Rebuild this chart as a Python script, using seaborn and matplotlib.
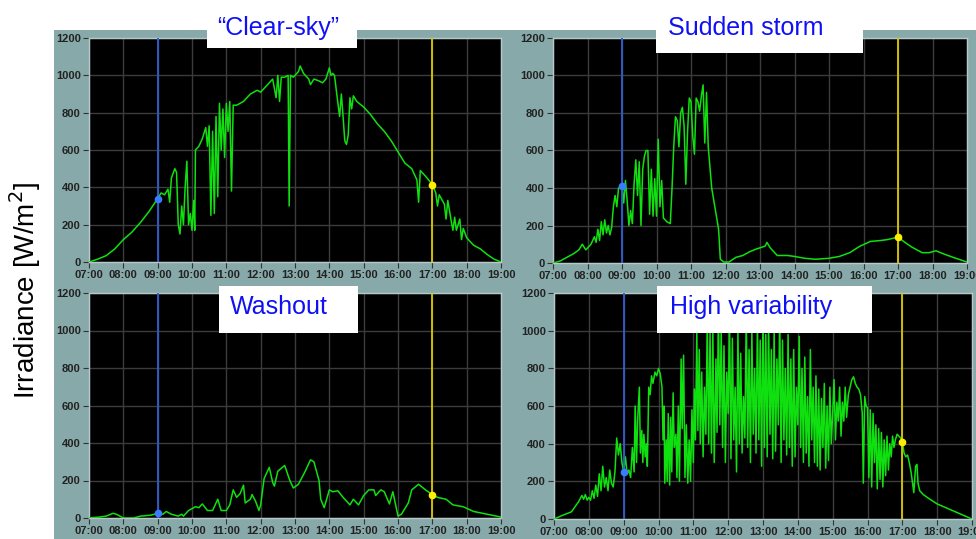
import numpy as np
import pandas as pd
import matplotlib
matplotlib.use("Agg")
import matplotlib.pyplot as plt
from matplotlib.patches import Rectangle
import seaborn as sns

# ---------------- data ----------------
panel_titles = ["\u201cClear-sky\u201d", "Sudden storm", "Washout", "High variability"]
x_tick_hours = list(range(7, 20))
x_tick_labels = [f"{h:02d}:00" for h in x_tick_hours]
y_ticks = [0, 200, 400, 600, 800, 1000, 1200]
y_label = "Irradiance [W/m$^2$]"
marker_start_hour = 9
marker_end_hour = 17

clear_t = [7.0, 7.25, 7.5, 7.75, 8.0, 8.25, 8.5, 8.75, 9.0, 9.1, 9.2, 9.3, 9.35, 9.4, 9.5, 9.55,
           9.6, 9.65, 9.7, 9.75, 9.8, 9.85, 9.9, 9.95, 10.0, 10.05, 10.08, 10.1, 10.2, 10.3, 10.4,
           10.45, 10.5, 10.55, 10.6, 10.65, 10.7, 10.75, 10.8, 10.85, 10.9, 10.95, 11.0, 11.05,
           11.1, 11.15, 11.2, 11.3, 11.5, 11.7, 11.9, 12.0, 12.2, 12.35, 12.45, 12.5, 12.55, 12.6,
           12.7, 12.8, 12.83, 12.87, 12.95, 13.1, 13.15, 13.25, 13.4, 13.45, 13.55, 13.7, 13.8,
           13.9, 14.0, 14.05, 14.1, 14.15, 14.25, 14.3, 14.35, 14.4, 14.45, 14.5, 14.55, 14.6,
           14.65, 14.7, 14.8, 15.0, 15.2, 15.4, 15.6, 15.8, 16.0, 16.2, 16.4, 16.55, 16.6, 16.65,
           16.8, 17.0, 17.1, 17.15, 17.2, 17.35, 17.4, 17.45, 17.55, 17.6, 17.65, 17.7, 17.8,
           17.85, 17.9, 18.0, 18.2, 18.4, 18.6, 18.8, 19.0]
clear_v = [0, 15, 34, 70, 120, 160, 212, 271, 340, 370, 360, 390, 320, 450, 500, 480,
           200, 150, 300, 200, 400, 540, 200, 260, 170, 330, 170, 600, 620, 660, 720,
           620, 730, 250, 700, 260, 780, 350, 850, 600, 820, 560, 850, 700,
           860, 380, 840, 840, 860, 900, 920, 910, 950, 980, 880, 1000, 860, 990,
           990, 1000, 300, 1000, 990, 1020, 1050, 1010, 980, 950, 980, 970, 960,
           980, 1040, 1000, 1010, 1000, 850, 780, 900, 780, 650, 630, 680, 880,
           820, 890, 860, 830, 790, 740, 700, 650, 590, 530, 500, 440, 320, 490,
           460, 415, 370, 300, 360, 310, 230, 330, 220, 170, 240, 170, 230,
           120, 180, 130, 90, 70, 40, 15, 0]

storm_t = [7.0, 7.2, 7.4, 7.6, 7.75, 7.85, 7.95, 8.1, 8.2, 8.25, 8.3, 8.35, 8.4, 8.45, 8.5,
           8.55, 8.6, 8.65, 8.7, 8.75, 8.8, 8.85, 8.9, 9.0, 9.05, 9.1, 9.15, 9.2, 9.25, 9.3,
           9.35, 9.4, 9.45, 9.5, 9.55, 9.6, 9.65, 9.7, 9.75, 9.8, 9.85, 9.9, 9.95, 10.0, 10.05,
           10.1, 10.15, 10.2, 10.3, 10.4, 10.45, 10.5, 10.55, 10.6, 10.65, 10.7, 10.75, 10.8,
           10.85, 10.9, 10.95, 11.0, 11.05, 11.1, 11.15, 11.2, 11.25, 11.3, 11.35, 11.4, 11.45,
           11.5, 11.6, 11.7, 11.8, 11.85, 11.95, 12.1, 12.3, 12.5, 12.7, 12.9, 13.15, 13.2,
           13.3, 13.5, 13.8, 14.0, 14.3, 14.6, 15.0, 15.3, 15.6, 15.9, 16.2, 16.5, 16.7, 17.0,
           17.2, 17.4, 17.7, 17.9, 18.1, 18.3, 18.6, 19.0]
storm_v = [0, 10, 30, 50, 70, 100, 70, 100, 140, 110, 180, 120, 220, 150, 230,
           160, 200, 150, 190, 300, 360, 300, 400, 410, 320, 440, 330, 200, 280, 210,
           420, 550, 360, 540, 200, 500, 570, 600, 600, 260, 500, 250, 450, 250, 660,
           300, 440, 240, 220, 210, 400, 620, 780, 760, 620, 800, 830, 730,
           420, 700, 880, 860, 680, 580, 880, 860, 810, 890, 950, 640, 910,
           620, 400, 290, 180, 20, 5, 5, 30, 40, 60, 75, 90, 110,
           80, 40, 40, 35, 25, 20, 25, 35, 55, 90, 115, 120, 125, 138,
           110, 85, 55, 55, 65, 50, 30, 5]

wash_t = [7.0, 7.3, 7.5, 7.7, 7.8, 8.0, 8.3, 8.5, 8.8, 9.0, 9.15, 9.25, 9.4, 9.6, 9.7, 9.75,
          9.9, 10.1, 10.2, 10.3, 10.45, 10.6, 10.75, 10.85, 11.0, 11.1, 11.2, 11.3, 11.4, 11.5,
          11.55, 11.7, 11.75, 11.85, 11.95, 12.0, 12.1, 12.25, 12.35, 12.4, 12.5, 12.7, 12.85,
          12.95, 13.1, 13.3, 13.45, 13.55, 13.7, 13.75, 13.85, 14.0, 14.1, 14.25, 14.4, 14.6,
          14.7, 14.85, 15.0, 15.15, 15.3, 15.35, 15.5, 15.6, 15.75, 15.85, 16.0, 16.1, 16.3,
          16.4, 16.6, 16.8, 17.0, 17.15, 17.4, 17.6, 17.9, 18.2, 18.6, 19.0]
wash_v = [0, 5, 10, 25, 20, 0, 0, 10, 15, 25, 20, 35, 20, 10, 20, 10,
          40, 60, 55, 75, 40, 40, 100, 40, 40, 70, 150, 110, 130, 175,
          80, 100, 125, 90, 40, 70, 210, 270, 190, 170, 250, 280, 200,
          160, 180, 250, 310, 300, 200, 100, 55, 150, 140, 145, 110, 70,
          100, 70, 120, 150, 150, 120, 150, 140, 75, 140, 10, 20, 80,
          150, 180, 150, 125, 110, 100, 70, 60, 35, 20, 5]

hv_t = [7.0, 7.25, 7.5, 7.7, 7.8, 7.85, 7.9, 7.95, 8.0, 8.05, 8.1, 8.15, 8.2, 8.25, 8.3, 8.35,
        8.4, 8.45, 8.5, 8.55, 8.6, 8.65, 8.7, 8.75, 8.8, 8.85, 8.9, 8.95, 9.0, 9.05, 9.1, 9.15,
        9.2, 9.25, 9.3, 9.33, 9.37, 9.4, 9.45, 9.48, 9.52, 9.55, 9.58, 9.62, 9.65, 9.68, 9.72,
        9.76, 9.8, 9.84, 9.9, 9.95, 10.0, 10.05, 10.1, 10.13, 10.16, 10.18, 10.22, 10.25, 10.28,
        10.32, 10.35, 10.38, 10.42, 10.45, 10.5, 10.53, 10.57, 10.6, 10.65, 10.68, 10.72, 10.76,
        10.8, 10.84, 10.88, 10.92, 10.96, 11.0, 11.03, 11.06, 11.1, 11.13, 11.17, 11.2, 11.24,
        11.28, 11.32, 11.36, 11.4, 11.44, 11.48, 11.52, 11.56, 11.6, 11.65, 11.68, 11.72, 11.76,
        11.8, 11.84, 11.88, 11.92, 11.96, 12.0, 12.04, 12.08, 12.12, 12.16, 12.2, 12.24, 12.28,
        12.32, 12.36, 12.4, 12.44, 12.48, 12.52, 12.56, 12.6, 12.64, 12.68, 12.72, 12.76, 12.8,
        12.84, 12.88, 12.92, 12.96, 13.0, 13.04, 13.08, 13.12, 13.16, 13.2, 13.24, 13.28, 13.32,
        13.36, 13.4, 13.44, 13.48, 13.52, 13.56, 13.6, 13.64, 13.68, 13.72, 13.76, 13.8, 13.84,
        13.88, 13.92, 13.96, 14.0, 14.04, 14.08, 14.12, 14.16, 14.2, 14.24, 14.28, 14.32, 14.36,
        14.4, 14.44, 14.48, 14.52, 14.56, 14.6, 14.64, 14.68, 14.72, 14.76, 14.8, 14.84, 14.88,
        14.92, 14.96, 15.0, 15.04, 15.08, 15.12, 15.16, 15.2, 15.24, 15.28, 15.32, 15.36, 15.4,
        15.45, 15.5, 15.55, 15.6, 15.65, 15.7, 15.75, 15.8, 15.85, 15.88, 15.92, 15.96, 16.0,
        16.04, 16.08, 16.12, 16.16, 16.2, 16.24, 16.28, 16.32, 16.36, 16.4, 16.44, 16.48, 16.52,
        16.56, 16.6, 16.64, 16.68, 16.72, 16.76, 16.8, 16.85, 16.9, 16.95, 17.0, 17.05, 17.1,
        17.15, 17.2, 17.25, 17.3, 17.33, 17.38, 17.42, 17.45, 17.5, 17.6, 17.75, 18.0, 18.25,
        18.5, 18.75, 19.0]
hv_v = [0, 20, 38, 90, 125, 105, 130, 100, 115, 100, 150, 110, 180, 120, 240, 150,
        280, 170, 220, 150, 260, 190, 170, 250, 430, 340, 400, 300, 250, 330, 240, 260,
        220, 380, 250, 600, 300, 520, 700, 350, 470, 300, 450, 330, 400, 280, 700,
        660, 760, 720, 780, 760, 800, 770, 700, 420, 600, 190, 420, 200, 560,
        180, 540, 250, 670, 380, 450, 220, 600, 200, 850, 480, 870, 220,
        500, 190, 420, 200, 580, 300, 690, 420, 990, 470, 900, 400, 780,
        330, 700, 450, 1050, 400, 990, 350, 1000, 300, 850, 460, 1100, 500,
        1000, 380, 920, 300, 780, 560, 1050, 320, 960, 420, 700, 250, 1000,
        400, 880, 350, 650, 430, 1100, 380, 900, 300, 1000, 450, 800, 350,
        1050, 420, 950, 280, 1100, 380, 980, 330, 1050, 450, 900, 320, 1000,
        360, 850, 500, 1100, 300, 950, 420, 800, 340, 980, 380, 850, 280,
        900, 330, 700, 500, 970, 380, 800, 300, 860, 350, 650, 280, 900,
        420, 700, 300, 760, 280, 690, 260, 640, 380, 720, 270, 600, 310,
        700, 400, 560, 740, 420, 620, 520, 700, 440, 620, 520, 700, 540,
        660, 700, 740, 755, 720, 700, 690, 660, 560, 190, 650, 600, 590,
        220, 580, 170, 560, 300, 500, 160, 480, 210, 460, 170, 420, 230,
        440, 260, 400, 330, 440, 380, 420, 450, 440, 430, 410, 350, 330,
        340, 300, 250, 180, 140, 280, 290, 190, 150, 130, 110, 80, 60,
        40, 20, 0]

series = [(clear_t, clear_v), (storm_t, storm_v), (wash_t, wash_v), (hv_t, hv_v)]

# ---------------- style / layout ----------------
W, H = 976, 539
BG_GRAY = "#87a9a9"
LINE_GREEN = "#10e010"

sns.set_theme(style="dark")
plt.rcParams["font.family"] = ["Liberation Sans", "DejaVu Sans"]

fig = plt.figure(figsize=(W / 100, H / 100), dpi=100)
fig.patch.set_facecolor("white")

def px_rect(x1, y1, x2, y2):
    return [x1 / W, 1 - y2 / H, (x2 - x1) / W, (y2 - y1) / H]

# gray panel background
fig.patches.append(Rectangle((54 / W, 0), (W - 54) / W, (H - 30) / H,
                             transform=fig.transFigure, facecolor=BG_GRAY,
                             edgecolor="none", zorder=-5))

axes_px = [(89, 38, 501, 262), (553, 38, 967, 263),
           (89, 293, 501, 518), (554, 293, 972, 519)]
title_boxes = [(207, 0, 357, 48), (656, 0, 863, 53),
               (219, 286, 358, 333), (657, 286, 872, 333)]
title_text_pos = [(217, 28), (668, 28), (230, 307), (670, 307)]

for i, ((t, v), apx) in enumerate(zip(series, axes_px)):
    ax = fig.add_axes(px_rect(*apx))
    ax.set_facecolor("black")
    df = pd.DataFrame({"time": t, "irr": v})
    sns.lineplot(data=df, x="time", y="irr", ax=ax, color=LINE_GREEN,
                 linewidth=1.1, estimator=None, sort=False, zorder=3)
    ax.axvline(marker_start_hour, color="#2d5fd8", linewidth=1.3, zorder=4)
    ax.axvline(marker_end_hour, color="#dcc800", linewidth=1.3, zorder=4)
    ys = np.interp(marker_start_hour, t, v)
    ye = np.interp(marker_end_hour, t, v)
    ax.plot([marker_start_hour], [ys], "o", color="#3a7cff", markersize=4.5, zorder=5)
    ax.plot([marker_end_hour], [ye], "o", color="#ffee00", markersize=4.5, zorder=5)

    ax.set_xlim(7, 19)
    ax.set_ylim(0, 1200)
    ax.set_xticks(x_tick_hours)
    ax.set_xticklabels(x_tick_labels)
    ax.set_yticks(y_ticks)
    ax.set_yticklabels([str(y) for y in y_ticks])
    ax.set_xlabel("")
    ax.set_ylabel("")
    ax.grid(True, color="#3c3c3c", linewidth=1.0)
    ax.set_axisbelow(True)
    ax.tick_params(axis="both", which="major", length=4, width=0.8, color="#333333",
                   labelsize=8, labelcolor="#222222", pad=2, bottom=True, left=True)
    for lab in ax.get_xticklabels() + ax.get_yticklabels():
        lab.set_fontweight("bold")
    for sp in ax.spines.values():
        sp.set_visible(True)
        sp.set_color("#b8c8c8")
        sp.set_linewidth(1.0)

# title boxes
for (x1, y1, x2, y2), (tx, ty), title in zip(title_boxes, title_text_pos, panel_titles):
    fig.patches.append(Rectangle((x1 / W, 1 - y2 / H), (x2 - x1) / W, (y2 - y1) / H,
                                 transform=fig.transFigure, facecolor="white",
                                 edgecolor="none", zorder=10))
    fig.text(tx / W, 1 - ty / H, title, color="#1010f5", fontsize=18,
             ha="left", va="center", zorder=11)

fig.text(25 / W, 1 - 290 / H, y_label, rotation=90, fontsize=20,
         ha="center", va="center", color="black")

fig.savefig("out.png", dpi=100, facecolor="white")
